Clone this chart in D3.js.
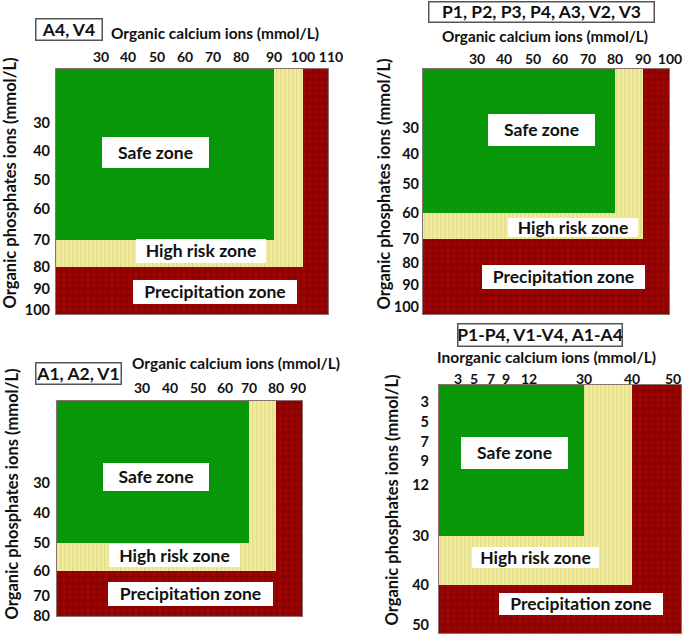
<!DOCTYPE html>
<html><head><meta charset="utf-8">
<script src="https://cdn.jsdelivr.net/npm/d3@7"></script>
<style>html,body{margin:0;padding:0;background:#fff;}svg{display:block;}</style>
</head><body>
<script>
// ---------- DATA ----------
const panelLabels = ["A4, V4", "P1, P2, P3, P4, A3, V2, V3", "A1, A2, V1", "P1-P4, V1-V4, A1-A4"];
const xTitles = ["Organic calcium ions (mmol/L)", "Organic calcium ions (mmol/L)", "Organic calcium ions (mmol/L)", "Inorganic calcium ions (mmol/L)"];
const yTitle = "Organic phosphates ions (mmol/L)";
const xTicks = [
  [30, 40, 50, 60, 70, 80, 90, 100, 110],
  [30, 40, 50, 60, 70, 80, 90, 100],
  [30, 40, 50, 60, 70, 80, 90],
  [3, 5, 7, 9, 12, 30, 40, 50]
];
const yTicks = [
  [30, 40, 50, 60, 70, 80, 90, 100],
  [30, 40, 50, 60, 70, 80, 90, 100],
  [30, 40, 50, 60, 70, 80],
  [3, 5, 7, 9, 12, 30, 40, 50]
];
const safeLimitX = [90, 80, 70, 30];
const safeLimitY = [70, 60, 50, 30];
const riskLimitX = [100, 90, 80, 40];
const riskLimitY = [80, 70, 60, 40];
const zoneNames = ["Safe zone", "High risk zone", "Precipitation zone"];

// ---------- LAYOUT (pixel geometry only) ----------
const layout = [
  { rect: {l: 55, r: 329, t: 68, b: 315},
    xPos: [101, 128, 157, 185, 213, 241, 274, 303, 331],
    yPos: [123, 151, 180, 209, 240, 267, 289, 310],
    label: {x: 35, y: 18, w: 68, h: 23},
    xTitle: {x: 111, y: 33, w: 208}, xTickY: 57, yTickX: 50, yTitle: {x: 10, y: 183},
    boxes: [{cx: 155.5, cy: 152.5, w: 107, h: 31}, {cx: 201, cy: 251, w: 130, h: 24}, {cx: 215, cy: 292, w: 164, h: 24}] },
  { rect: {l: 422, r: 670, t: 68, b: 315},
    xPos: [477, 504, 533, 560, 588, 615, 643, 670],
    yPos: [128, 154, 184, 213, 239, 263, 285, 307],
    label: {x: 428, y: 1, w: 227, h: 22},
    xTitle: {x: 442, y: 36, w: 206}, xTickY: 59, yTickX: 419, yTitle: {x: 384, y: 184},
    boxes: [{cx: 541.5, cy: 130, w: 107, h: 32}, {cx: 573, cy: 227.5, w: 130, h: 19}, {cx: 563.5, cy: 277, w: 163, h: 24}] },
  { rect: {l: 56, r: 303, t: 400, b: 617},
    xPos: [142, 170, 198, 225, 249, 276, 298],
    yPos: [483, 513, 543, 571, 596, 616],
    label: {x: 35, y: 362, w: 87, h: 23},
    xTitle: {x: 132, y: 363, w: 208}, xTickY: 388, yTickX: 50, yTitle: {x: 12, y: 494},
    boxes: [{cx: 156, cy: 477, w: 106, h: 28}, {cx: 174.5, cy: 555.5, w: 131, h: 23}, {cx: 190.5, cy: 594, w: 165, h: 24}] },
  { rect: {l: 438, r: 682, t: 384, b: 634},
    xPos: [458, 474, 491, 506, 529, 584, 632, 673],
    yPos: [402, 422, 442, 461, 485, 536, 585, 625],
    label: {x: 457, y: 323, w: 166, h: 24},
    xTitle: {x: 437, y: 357, w: 219}, xTickY: 379, yTickX: 429, yTitle: {x: 392, y: 500},
    boxes: [{cx: 514.5, cy: 453, w: 107, h: 32}, {cx: 535.5, cy: 557.5, w: 127, h: 21}, {cx: 581, cy: 604, w: 164, h: 22}] }
];

const W = 685, H = 634;
const FONT = "Lato, 'Open Sans', sans-serif";

const svg = d3.select("body").append("svg").attr("width", W).attr("height", H)
  .style("font-family", FONT);
svg.append("rect").attr("width", W).attr("height", H).attr("fill", "#fff");

// ---------- PATTERNS ----------
const defs = svg.append("defs");
const pg = defs.append("pattern").attr("id", "pGreen").attr("patternUnits", "userSpaceOnUse").attr("width", 4).attr("height", 4);
pg.append("rect").attr("width", 4).attr("height", 4).attr("fill", "#0a990a");
pg.append("path").attr("d", "M0,4 L4,0").attr("stroke", "#078d07").attr("stroke-width", 0.8);

const py = defs.append("pattern").attr("id", "pYellow").attr("patternUnits", "userSpaceOnUse").attr("width", 4).attr("height", 4);
py.append("rect").attr("width", 4).attr("height", 4).attr("fill", "#f0eb9e");
py.append("rect").attr("x", 0).attr("width", 1.5).attr("height", 4).attr("fill", "#e5de8a");

const pr = defs.append("pattern").attr("id", "pRed").attr("patternUnits", "userSpaceOnUse").attr("width", 6).attr("height", 6);
pr.append("rect").attr("width", 6).attr("height", 6).attr("fill", "#9c0303");
pr.append("rect").attr("x", 0).attr("width", 2).attr("height", 6).attr("fill", "#7a0000").attr("opacity", 0.4);
pr.append("rect").attr("y", 0).attr("width", 6).attr("height", 2).attr("fill", "#7a0000").attr("opacity", 0.4);

// ---------- PANELS ----------
layout.forEach((L, i) => {
  const g = svg.append("g");
  const R = L.rect;
  const x = d3.scaleLinear().domain(xTicks[i]).range(L.xPos);
  const y = d3.scaleLinear().domain(yTicks[i]).range(L.yPos);

  // zones
  g.append("rect").attr("x", R.l).attr("y", R.t).attr("width", R.r - R.l).attr("height", R.b - R.t)
    .attr("fill", "url(#pRed)");
  g.append("rect").attr("x", R.l).attr("y", R.t)
    .attr("width", x(riskLimitX[i]) - R.l).attr("height", y(riskLimitY[i]) - R.t)
    .attr("fill", "url(#pYellow)");
  g.append("rect").attr("x", R.l).attr("y", R.t)
    .attr("width", x(safeLimitX[i]) - R.l).attr("height", y(safeLimitY[i]) - R.t)
    .attr("fill", "url(#pGreen)");
  g.append("rect").attr("x", R.l + 0.5).attr("y", R.t + 0.5).attr("width", R.r - R.l - 1).attr("height", R.b - R.t - 1)
    .attr("fill", "none").attr("stroke", "#8a7070").attr("stroke-width", 1);

  // zone labels
  L.boxes.forEach((b, k) => {
    g.append("rect").attr("x", b.cx - b.w / 2).attr("y", b.cy - b.h / 2).attr("width", b.w).attr("height", b.h)
      .attr("fill", "#fff");
    g.append("text").attr("x", b.cx).attr("y", b.cy).attr("text-anchor", "middle").attr("dy", "0.36em")
      .attr("font-size", 17.5).attr("font-weight", 700).attr("fill", "#111").text(zoneNames[k]);
  });

  // x ticks (top)
  g.selectAll(".xt").data(xTicks[i]).join("text")
    .attr("x", d => x(d)).attr("y", L.xTickY).attr("dy", "0.36em").attr("text-anchor", "middle")
    .attr("font-size", 14).attr("font-weight", 700).attr("fill", "#111").text(d => d);
  // y ticks (left)
  g.selectAll(".yt").data(yTicks[i]).join("text")
    .attr("x", L.yTickX).attr("y", d => y(d)).attr("dy", "0.36em").attr("text-anchor", "end")
    .attr("font-size", 14.5).attr("font-weight", 700).attr("fill", "#111").text(d => d);

  // x title
  g.append("text").attr("x", L.xTitle.x).attr("y", L.xTitle.y).attr("dy", "0.36em")
    .attr("font-size", 15.5).attr("font-weight", 700).attr("fill", "#111")
    .attr("textLength", L.xTitle.w).attr("lengthAdjust", "spacingAndGlyphs").text(xTitles[i]);
  // y title
  g.append("text").attr("transform", `translate(${L.yTitle.x},${L.yTitle.y}) rotate(-90)`)
    .attr("text-anchor", "middle").attr("dy", "0.36em")
    .attr("font-size", 16.5).attr("font-weight", 700).attr("fill", "#111")
    .attr("textLength", 251).attr("lengthAdjust", "spacingAndGlyphs").text(yTitle);

  // panel label box
  const lb = L.label;
  g.append("rect").attr("x", lb.x + 0.75).attr("y", lb.y + 0.75).attr("width", lb.w - 1.5).attr("height", lb.h - 1.5)
    .attr("fill", "#fff").attr("stroke", "#555").attr("stroke-width", 1.5);
  g.append("text").attr("x", lb.x + lb.w / 2).attr("y", lb.y + lb.h / 2).attr("dy", "0.36em").attr("text-anchor", "middle")
    .attr("font-size", 17.5).attr("font-weight", 700).attr("fill", "#111").text(panelLabels[i]);
});
</script>
</body></html>
